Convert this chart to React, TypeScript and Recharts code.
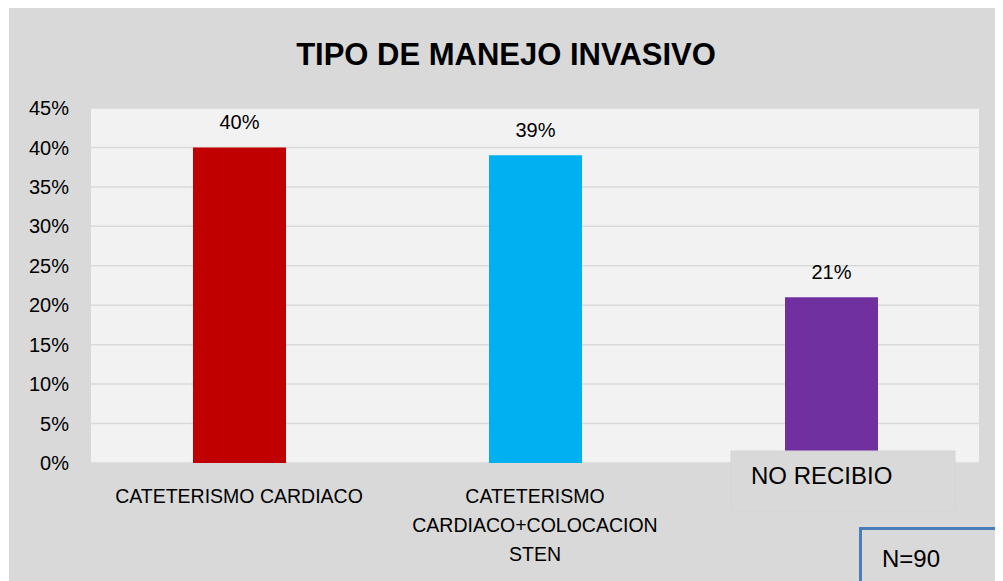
import React from "react";
import { BarChart, Bar, XAxis, YAxis, CartesianGrid, Cell, LabelList } from "recharts";

const categories = ["CATETERISMO CARDIACO", "CATETERISMO CARDIACO+COLOCACION STEN", "NO RECIBIO"];
const tickLines = [["CATETERISMO CARDIACO"], ["CATETERISMO", "CARDIACO+COLOCACION", "STEN"], ["NO RECIBIO"]];
const values = [0.4, 0.39, 0.21];
const barColors = ["#c00000", "#00b0f0", "#7030a0"];
const yTicks = [0, 0.05, 0.1, 0.15, 0.2, 0.25, 0.3, 0.35, 0.4, 0.45];

const data = categories.map((name, i) => ({ name, value: values[i] }));

const FONT = "'Liberation Sans', Arial, sans-serif";
const pct = (v: number) => `${Math.round(v * 100)}%`;

function CategoryTick(props: any) {
  const { x, y, index } = props;
  const lines = tickLines[index] || [];
  if (index === 2) {
    // label sits in a text box that covers the base of the bar
    return (
      <g>
        <rect x={x - 100} y={y - 12} width={224} height={60} fill="#d9d9d9" stroke="#d5d5d5" strokeWidth={1} />
        <text x={x - 80} y={y + 21} fontSize={24} fontFamily={FONT} fill="#000">
          {lines[0]}
        </text>
      </g>
    );
  }
  return (
    <g>
      {lines.map((l: string, i: number) => (
        <text key={i} x={x} y={y + 40 + i * 29} textAnchor="middle" fontSize={19.5} fontFamily={FONT} fill="#000">
          {l}
        </text>
      ))}
    </g>
  );
}

export default function App() {
  return (
    <div
      style={{
        position: "relative",
        marginLeft: 1,
        width: 994,
        height: 573,
        background: "#d9d9d9",
        overflow: "hidden",
        fontFamily: FONT,
      }}
    >
      <style>{"html, body { overflow: hidden; }"}</style>
      <div
        style={{
          position: "absolute",
          top: 31,
          left: 0,
          width: 994,
          textAlign: "center",
          fontSize: 31,
          lineHeight: "31px",
          fontWeight: "bold",
          color: "#000",
        }}
      >
        TIPO DE MANEJO INVASIVO
      </div>
      <BarChart width={994} height={573} data={data} margin={{ top: 100, right: 24, left: 0, bottom: 0 }}>
        <CartesianGrid vertical={false} fill="#f2f2f2" stroke="#d9d9d9" strokeWidth={1.5} />
        <YAxis
          domain={[0, 0.45]}
          ticks={yTicks}
          tickFormatter={pct}
          width={82}
          axisLine={false}
          tickLine={false}
          tickSize={0}
          tickMargin={22}
          tick={{ fontSize: 20, fill: "#000", fontFamily: FONT }}
        />
        <Bar dataKey="value" barSize={93} isAnimationActive={false}>
          {data.map((d, i) => (
            <Cell key={d.name} fill={barColors[i]} />
          ))}
          <LabelList dataKey="value" position="top" offset={18} formatter={(v: any) => pct(Number(v))} style={{ fontSize: 20, fill: "#000", fontFamily: FONT }} />
        </Bar>
        <XAxis dataKey="name" height={118} axisLine={false} tickLine={false} tickSize={0} tickMargin={0} interval={0} tick={<CategoryTick />} />
      </BarChart>
      <div
        style={{
          position: "absolute",
          left: 850,
          top: 519,
          width: 144,
          height: 54,
          borderTop: "3px solid #4a7ebb",
          borderLeft: "3px solid #4a7ebb",
          background: "#d9d9d9",
          boxSizing: "border-box",
        }}
      >
        <span style={{ position: "absolute", left: 20, top: 14, fontSize: 24, lineHeight: "30px", color: "#000" }}>N=90</span>
      </div>
    </div>
  );
}
